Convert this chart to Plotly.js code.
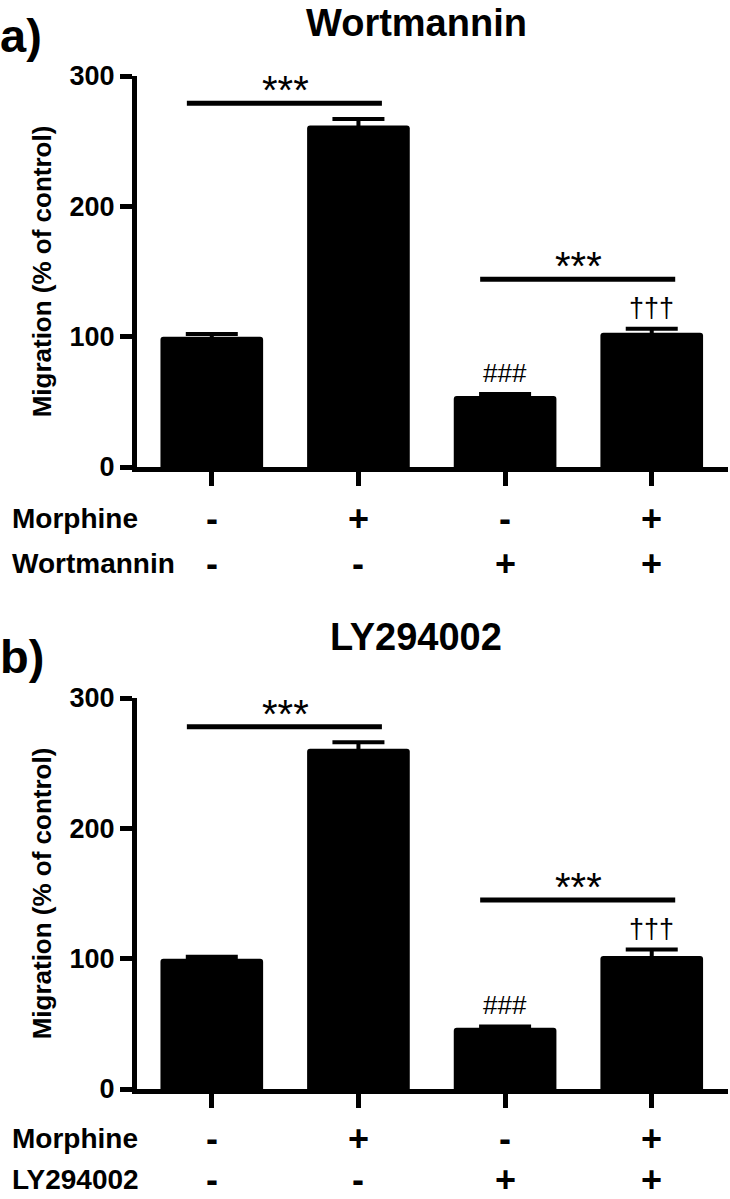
<!DOCTYPE html>
<html>
<head>
<meta charset="utf-8">
<script src="https://cdn.plot.ly/plotly-3.0.1.min.js"></script>
<style>html,body{margin:0;padding:0;background:#fff;}</style>
</head>
<body>
<div id="chart" style="width:730px;height:1199px;"></div>
<script>
// ---------- data ----------
const groups = [0, 1, 2, 3];
const morphineSigns = ['-', '+', '-', '+'];
const inhibitorSigns = ['-', '-', '+', '+'];

const panelATitle = 'Wortmannin';
const panelBTitle = 'LY294002';
const panelALabel = 'a)';
const panelBLabel = 'b)';

const wortMean = [100, 262, 54.5, 103];
const wortErr = [2, 5, 1.5, 3];
const lyMean = [100, 261, 47, 102];
const lyErr = [1.5, 5, 1, 5];

// significance comparisons: [group i, group j, bracket level]
const wortComparisons = [[0, 1, 279], [2, 3, 144]];
const lyComparisons = [[0, 1, 278], [2, 3, 145]];
const compLabel = '***';
const vsControlLabel = '###';   // group 2
const vsMorphineLabel = '†††';  // group 3

const yTicks = [0, 100, 200, 300];
const yTitle = 'Migration (% of control)';

// ---------- layout helpers ----------
const FONT = '"Liberation Sans", Arial, Helvetica, sans-serif';
const W = 730, H = 1199;
const M = {l: 137, r: 2, t: 76, b: 110};
const plotH = H - M.t - M.b;
const plotW = W - M.l - M.r;
const py = (pix) => (H - M.b - pix) / plotH;     // pixel y -> paper y
const px = (pix) => (pix - M.l) / plotW;         // pixel x -> paper x

function barTrace(mean, err, xa, ya) {
  return {
    type: 'bar', x: groups, y: mean, xaxis: xa, yaxis: ya,
    width: 0.7,
    marker: {color: '#000', line: {width: 0}, cornerradius: 3},
    error_y: {type: 'data', array: err, visible: true, color: '#000', thickness: 4, width: 26},
    hoverinfo: 'skip', showlegend: false
  };
}

const traces = [
  barTrace(wortMean, wortErr, 'x', 'y'),
  barTrace(lyMean, lyErr, 'x2', 'y2')
];

const shapes = [];
const annotations = [];

function addPanel(xa, ya, comps, mean, err, title, label, inhibName, axisPix, titlePix, labelPix, row1, row2) {
  comps.forEach(c => {
    shapes.push({type: 'line', xref: xa, yref: ya, x0: c[0] - 0.17, x1: c[1] + 0.16, y0: c[2], y1: c[2],
      line: {color: '#000', width: 5}});
    annotations.push({xref: xa, yref: ya, x: (c[0] + c[1]) / 2, y: c[2], text: compLabel,
      showarrow: false, yanchor: 'bottom', yshift: -11, font: {family: FONT, size: 40, color: '#000'}});
  });
  annotations.push({xref: xa, yref: ya, x: groups[2], y: mean[2] + err[2], text: vsControlLabel,
    showarrow: false, yanchor: 'bottom', yshift: 4, font: {family: FONT, size: 26, color: '#000'}});
  annotations.push({xref: xa, yref: ya, x: groups[3], y: mean[3] + err[3], text: vsMorphineLabel,
    showarrow: false, yanchor: 'bottom', yshift: 4, font: {family: FONT, size: 27, color: '#000'}});
  // title and panel label
  annotations.push({xref: 'paper', yref: 'paper', x: px(416), y: py(titlePix), text: '<b>' + title + '</b>',
    showarrow: false, xanchor: 'center', yanchor: 'middle', font: {family: FONT, size: 38, color: '#000'}});
  annotations.push({xref: 'paper', yref: 'paper', x: px(-2), y: py(labelPix), text: '<b>' + label + '</b>',
    showarrow: false, xanchor: 'left', yanchor: 'middle', font: {family: FONT, size: 47, color: '#000'}});
  // row labels
  annotations.push({xref: 'paper', yref: 'paper', x: px(10), y: py(axisPix + row1), text: '<b>Morphine</b>',
    showarrow: false, xanchor: 'left', yanchor: 'middle', font: {family: FONT, size: 28, color: '#000'}});
  annotations.push({xref: 'paper', yref: 'paper', x: px(10), y: py(axisPix + row2), text: '<b>' + inhibName + '</b>',
    showarrow: false, xanchor: 'left', yanchor: 'middle', font: {family: FONT, size: 28, color: '#000'}});
  groups.forEach((g, i) => {
    annotations.push({xref: xa, yref: 'paper', x: g, y: py(axisPix + row1), text: '<b>' + morphineSigns[i] + '</b>',
      showarrow: false, xanchor: 'center', yanchor: 'middle', font: {family: FONT, size: 36, color: '#000'}});
    annotations.push({xref: xa, yref: 'paper', x: g, y: py(axisPix + row2), text: '<b>' + inhibitorSigns[i] + '</b>',
      showarrow: false, xanchor: 'center', yanchor: 'middle', font: {family: FONT, size: 36, color: '#000'}});
  });
}

addPanel('x', 'y', wortComparisons, wortMean, wortErr, panelATitle, panelALabel, 'Wortmannin', 467, 23, 35, 51, 96);
addPanel('x2', 'y2', lyComparisons, lyMean, lyErr, panelBTitle, panelBLabel, 'LY294002', 1089, 637, 657, 49, 90);

function xAxis(anchor) {
  return {
    anchor: anchor, domain: [0, 1], range: [-0.51, 3.52],
    tickvals: groups, showticklabels: false,
    ticks: 'outside', ticklen: 14, tickwidth: 5, tickcolor: '#000',
    showline: true, linecolor: '#000', linewidth: 5,
    showgrid: false, zeroline: false, fixedrange: true
  };
}
function yAxis(anchor, domain) {
  return {
    anchor: anchor, domain: domain, range: [0, 300],
    tickvals: yTicks, ticktext: yTicks.map(v => '<b>' + v + '</b>'),
    ticks: 'outside', ticklen: 12, tickwidth: 5, tickcolor: '#000',
    showline: true, linecolor: '#000', linewidth: 5,
    showgrid: false, zeroline: false, fixedrange: true,
    tickfont: {family: FONT, size: 27, color: '#000'},
    title: {text: '<b>' + yTitle + '</b>', font: {family: FONT, size: 26, color: '#000'}, standoff: 12}
  };
}

const layout = {
  width: W, height: H,
  margin: M,
  paper_bgcolor: '#fff', plot_bgcolor: '#fff',
  showlegend: false,
  bargap: 0.3,
  xaxis: xAxis('y'),
  yaxis: yAxis('x', [py(467), py(76)]),
  xaxis2: xAxis('y2'),
  yaxis2: yAxis('x2', [py(1089), py(698)]),
  shapes: shapes,
  annotations: annotations
};

Plotly.newPlot('chart', traces, layout, {displayModeBar: false, staticPlot: true});
</script>
</body>
</html>
